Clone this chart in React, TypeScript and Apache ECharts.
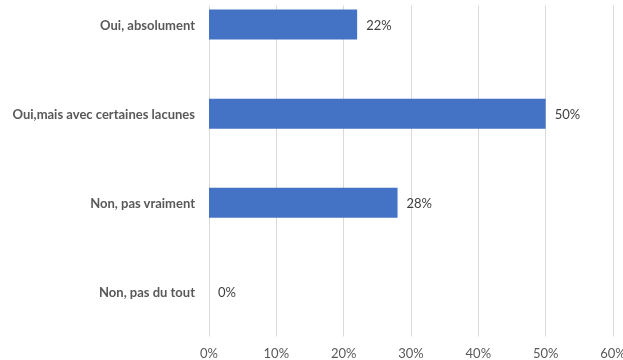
import React, { useEffect, useRef } from "react";
import * as echarts from "echarts";

const categories = ["Oui, absolument", "Oui,mais avec certaines lacunes", "Non, pas vraiment", "Non, pas du tout"];
const values = [22, 50, 28, 0];
const xTicks = { min: 0, max: 60, interval: 10 };

export default function App() {
  const ref = useRef<HTMLDivElement>(null);
  useEffect(() => {
    const chart = echarts.init(ref.current!, undefined, { renderer: "svg" });
    chart.setOption({
      animation: false,
      grid: { left: 209, right: 10, top: 0, bottom: 24.5, containLabel: false, outerBoundsMode: "none" },
      graphic: [
        { type: "rect", left: 0, top: 0, shape: { x: 0, y: 0, width: 623, height: 25.5 }, style: { fill: "#fff" }, z: 100 },
      ],
      xAxis: {
        type: "value",
        min: xTicks.min,
        max: xTicks.max,
        interval: xTicks.interval,
        axisLine: { show: false },
        axisTick: { show: false },
        splitLine: { show: true, lineStyle: { color: "#d9d9d9", width: 1 } },
        axisLabel: { formatter: "{value}%", color: "#595959", fontSize: 13, fontFamily: "Lato", margin: 10 },
      },
      yAxis: {
        type: "category",
        data: categories,
        inverse: true,
        axisLine: { show: false },
        axisTick: { show: false },
        axisLabel: { color: "#595959", fontSize: 13, fontWeight: "bold", fontFamily: "Lato", margin: 14 },
      },
      series: [
        {
          type: "bar",
          data: values,
          barWidth: 30,
          z: 200,
          itemStyle: { color: "#4472C4" },
          label: {
            show: true,
            position: "right",
            distance: 9,
            formatter: "{c}%",
            color: "#404040",
            fontSize: 13,
            fontFamily: "Lato",
          },
        },
      ],
    });
    return () => chart.dispose();
  }, []);
  return <div ref={ref} style={{ position: "fixed", left: 0, top: -20.5, width: 623, height: 380.5 }} />;
}
